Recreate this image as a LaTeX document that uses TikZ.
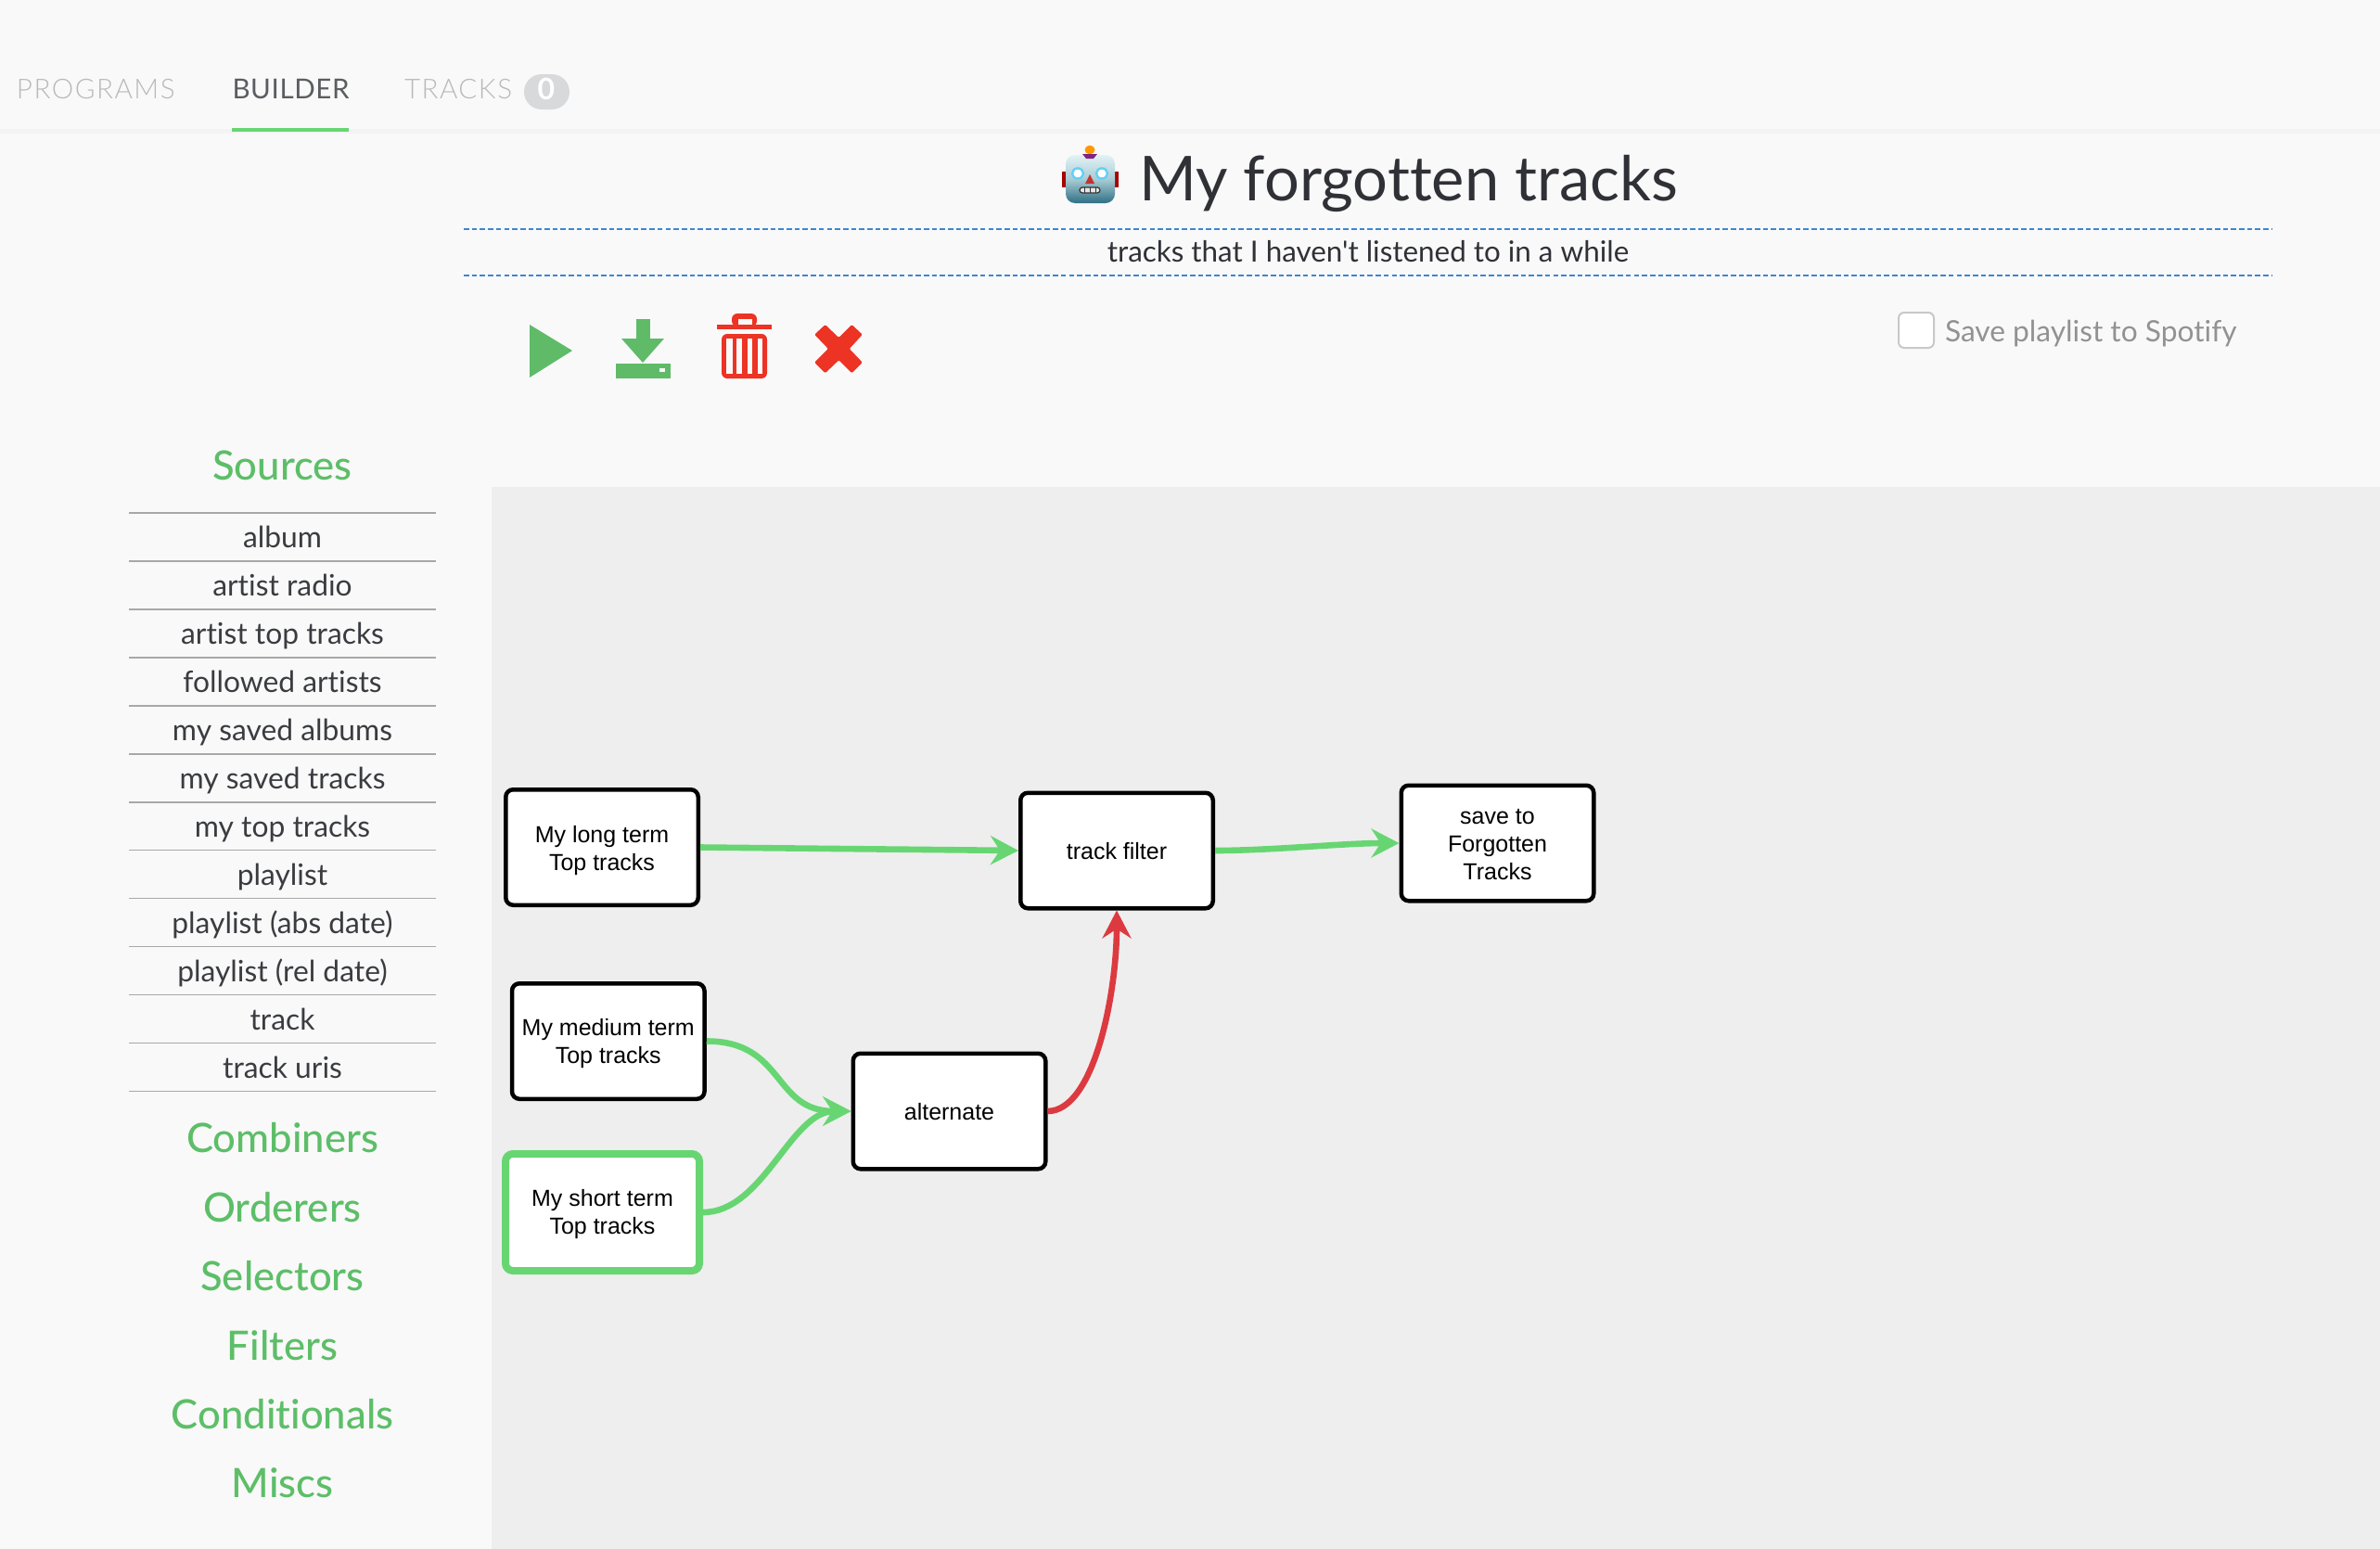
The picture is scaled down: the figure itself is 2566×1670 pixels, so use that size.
\documentclass[tikz,border=0pt]{standalone}
\usepackage{fontspec}
\defaultfontfeatures{Ligatures=CommonOff}
\setmainfont{Lato}
\newfontfamily\regf{Lato}
\newfontfamily\tabf[LetterSpace=5]{Lato Light}
\newfontfamily\tabdarkf[LetterSpace=2]{Lato}
\newfontfamily\medf{Lato Medium}
\newfontfamily\boxf{Liberation Sans}
\usetikzlibrary{arrows.meta}
\definecolor{pagebg}{HTML}{F9F9F9}
\definecolor{graphbg}{HTML}{EEEEEE}
\definecolor{divider}{HTML}{F3F3F3}
\definecolor{grn}{HTML}{67D672}
\definecolor{icongrn}{HTML}{5FBB68}
\definecolor{headgrn}{HTML}{5DBE68}
\definecolor{redline}{HTML}{DC3A40}
\definecolor{iconred}{HTML}{EC3324}
\definecolor{dashblue}{HTML}{3D87D0}
\definecolor{titlecol}{HTML}{2F3136}
\definecolor{itemcol}{HTML}{3A3C40}
\definecolor{sepcol}{HTML}{A8A8A8}
\definecolor{tabgrey}{HTML}{B8B9BC}
\definecolor{tabdark}{HTML}{5C5D62}
\definecolor{badge}{HTML}{D8D9DB}
\definecolor{chk}{HTML}{C8C8C8}
\definecolor{chktxt}{HTML}{929292}
\definecolor{botlight}{HTML}{E2F3F6}
\definecolor{botmid}{HTML}{A9CCD4}
\definecolor{botdark}{HTML}{2F6F85}
\newcommand\boxtext[2]{\raisebox{-#1}[0pt][0pt]{\begin{tabular}[c]{@{}c@{}}#2\end{tabular}}}
\tikzset{
  x=0.5pt,y=-0.5pt,
  txt/.style={inner sep=0pt,outer sep=0pt,anchor=base},
  tab/.style={txt,anchor=base west,font=\tabf\fontsize{14.8}{20}\selectfont,text=tabgrey},
  item/.style={txt,font=\regf\fontsize{15.9}{20}\selectfont,text=itemcol},
  head/.style={txt,font=\medf\fontsize{21.8}{24}\selectfont,text=headgrn},
  sep/.style={draw=sepcol,line width=0.75pt},
  dashrule/.style={draw=dashblue,line width=1pt,dash pattern=on 2.8pt off 1.55pt},
  gbox/.style={draw=black,fill=white,line width=2.25pt,rounded corners=4pt,
    minimum width=103.75pt,minimum height=62.25pt,inner sep=0pt,
    font=\boxf\fontsize{12.5}{15}\selectfont,text=black},
  gsel/.style={gbox,draw=grn,line width=4pt,minimum width=104.5pt,minimum height=63pt},
  link/.style={draw=grn,line width=3.3pt,-{Stealth[length=15pt,width=15.5pt,inset=5pt]}},
  redlink/.style={link,draw=redline},
}
\begin{document}
\begin{tikzpicture}
\useasboundingbox (0,0) rectangle (2566,1670);
\fill[pagebg] (0,0) rectangle (2566,1670);
\fill[graphbg] (530,525) rectangle (2566,1670);
% tabs
\fill[divider] (0,139) rectangle (2566,144);
\node[tab] (tabprog) at (18,106) {PROGRAMS};
\node[tab,font=\tabdarkf\fontsize{14.8}{20}\selectfont,text=tabdark] (tabbuild) at (250.5,106) {BUILDER};
\node[tab] (tabtracks) at (436,106) {TRACKS};
\fill[grn] (250,138) rectangle (376,142);
\fill[badge,rounded corners=9.5pt] (565,80) rectangle (614,118);
\node[txt,font=\fontsize{16}{20}\selectfont\bfseries,text=white] (badgezero) at (589,107) {0};
% title
\node[txt,anchor=base west,font=\regf\fontsize{33.4}{40}\selectfont,text=titlecol] (title) at (1228,216) {My forgotten tracks};
\node[txt,font=\regf\fontsize{15.7}{20}\selectfont,text=titlecol] (subtitle) at (1475,282) {tracks that I haven't listened to in a while};
\draw[dashrule] (500,247) -- (2450,247);
\draw[dashrule] (500,297) -- (2450,297);
% robot
\fill[red!65!black] (1145,185) rectangle (1150,202);
\fill[red!65!black] (1201,185) rectangle (1206,202);
\shade[top color=botlight,bottom color=botdark,middle color=botmid,rounded corners=5pt] (1149,167) rectangle (1202,219);
\fill[orange!80!yellow] (1175,161.5) ellipse [x radius=5.5,y radius=4.8];
\fill[violet!70!gray] (1167,166) -- (1183,166) -- (1179,171) -- (1171,171) -- cycle;
\foreach \ex in {1162,1188} {\filldraw[draw=cyan!60!white,fill=white,line width=1.2pt] (\ex,187) ellipse [x radius=6,y radius=5.6];}
\fill[red!70!black!80!white] (1175,188) -- (1180,198) -- (1170,198) -- cycle;
\filldraw[draw=black!80,fill=white!90!black,line width=.6pt,rounded corners=1.5pt] (1164,202) rectangle (1186,208);
\foreach \tx in {1169,1175,1181} {\draw[black!80,line width=.5pt] (\tx,202) -- (\tx,208);}
% toolbar icons
\fill[icongrn] (571,350) -- (617,378) -- (571,407) -- cycle;
\fill[icongrn] (686,344) rectangle (701,365);
\fill[icongrn] (670,365) -- (716,365) -- (693,391) -- cycle;
\fill[icongrn] (664,392) rectangle (723,408);
\fill[pagebg] (711,397) rectangle (717,401);
\fill[iconred,rounded corners=3pt] (789,352) -- (789,338) -- (816,338) -- (816,352) -- cycle;
\fill[pagebg] (796,344) rectangle (811,350);
\fill[iconred] (773,350) rectangle (832,355);
\fill[iconred,rounded corners=3pt] (778,360) -- (827,360) -- (827,408) -- (778,408) -- cycle;
\foreach \a/\b in {783/789.5,794/800,805.5/811,816.5/822} {\fill[pagebg] (\a,365) rectangle (\b,403);}
\fill[iconred,rounded corners=.6pt] (889.7,350) -- (904.3,364) -- (918.4,350) -- (929.8,360.7) -- (915.8,376) -- (929.8,390.7) -- (918.4,402.3) -- (904.3,388.3) -- (889.7,402.3) -- (878.2,390.7) -- (892.9,376) -- (878.2,360.7) -- cycle;
% checkbox
\filldraw[draw=chk,fill=white,line width=1pt,rounded corners=3pt] (2047,337) rectangle (2085,375);
\node[txt,anchor=base west,font=\regf\fontsize{15.85}{20}\selectfont,text=chktxt] (savelbl) at (2097,368) {Save playlist to Spotify};
% sidebar
\node[head] (hsources) at (304.5,517) {Sources};
\foreach \i in {0,...,12} {\draw[sep] (139,553+51.96*\i) -- (470,553+51.96*\i);}
\foreach \i/\t in {0/album,1/artist radio,2/artist top tracks,3/followed artists,4/my saved albums,5/my saved tracks,6/my top tracks,7/playlist,8/playlist (abs date),9/playlist (rel date),10/track,11/track uris}
  {\node[item] (item\i) at (304.5,590.5+51.96*\i) {\t};}
\node[head] (hcomb) at (304.5,1242) {Combiners};
\node[head] (hord) at (304.5,1317) {Orderers};
\node[head] (hsel) at (304.5,1391) {Selectors};
\node[head] (hfil) at (304.5,1466) {Filters};
\node[head] (hcon) at (304.5,1540) {Conditionals};
\node[head] (hmis) at (304.5,1614) {Miscs};
% graph
\node[gbox] (long) at (649,913.5) {\boxtext{4.8pt}{My long term\\Top tracks}};
\node[gbox] (medium) at (655.75,1122.5) {\boxtext{4.6pt}{My medium term\\Top tracks}};
\node[gsel] (short) at (649.5,1307) {\boxtext{4.4pt}{My short term\\Top tracks}};
\node[gbox] (alt) at (1023.5,1198) {\boxtext{4.85pt}{alternate}};
\node[gbox] (filter) at (1204,917) {\boxtext{4.85pt}{track filter}};
\node[gbox] (save) at (1614.5,909) {\boxtext{4.5pt}{save to\\Forgotten\\Tracks}};
\draw[link] (long.east) -- (filter.west);
\draw[link] (filter.east) .. controls +(60,0) and +(-60,0) .. (save.west);
\draw[link] (medium.east) .. controls +(85,0) and +(-85,0) .. (alt.west);
\draw[link] (short.east) .. controls +(65,0) and +(-65,0) .. (alt.west);
\draw[redlink] (alt.east) .. controls +(50,0) and +(0,90) .. (filter.south);
\end{tikzpicture}
\end{document}
